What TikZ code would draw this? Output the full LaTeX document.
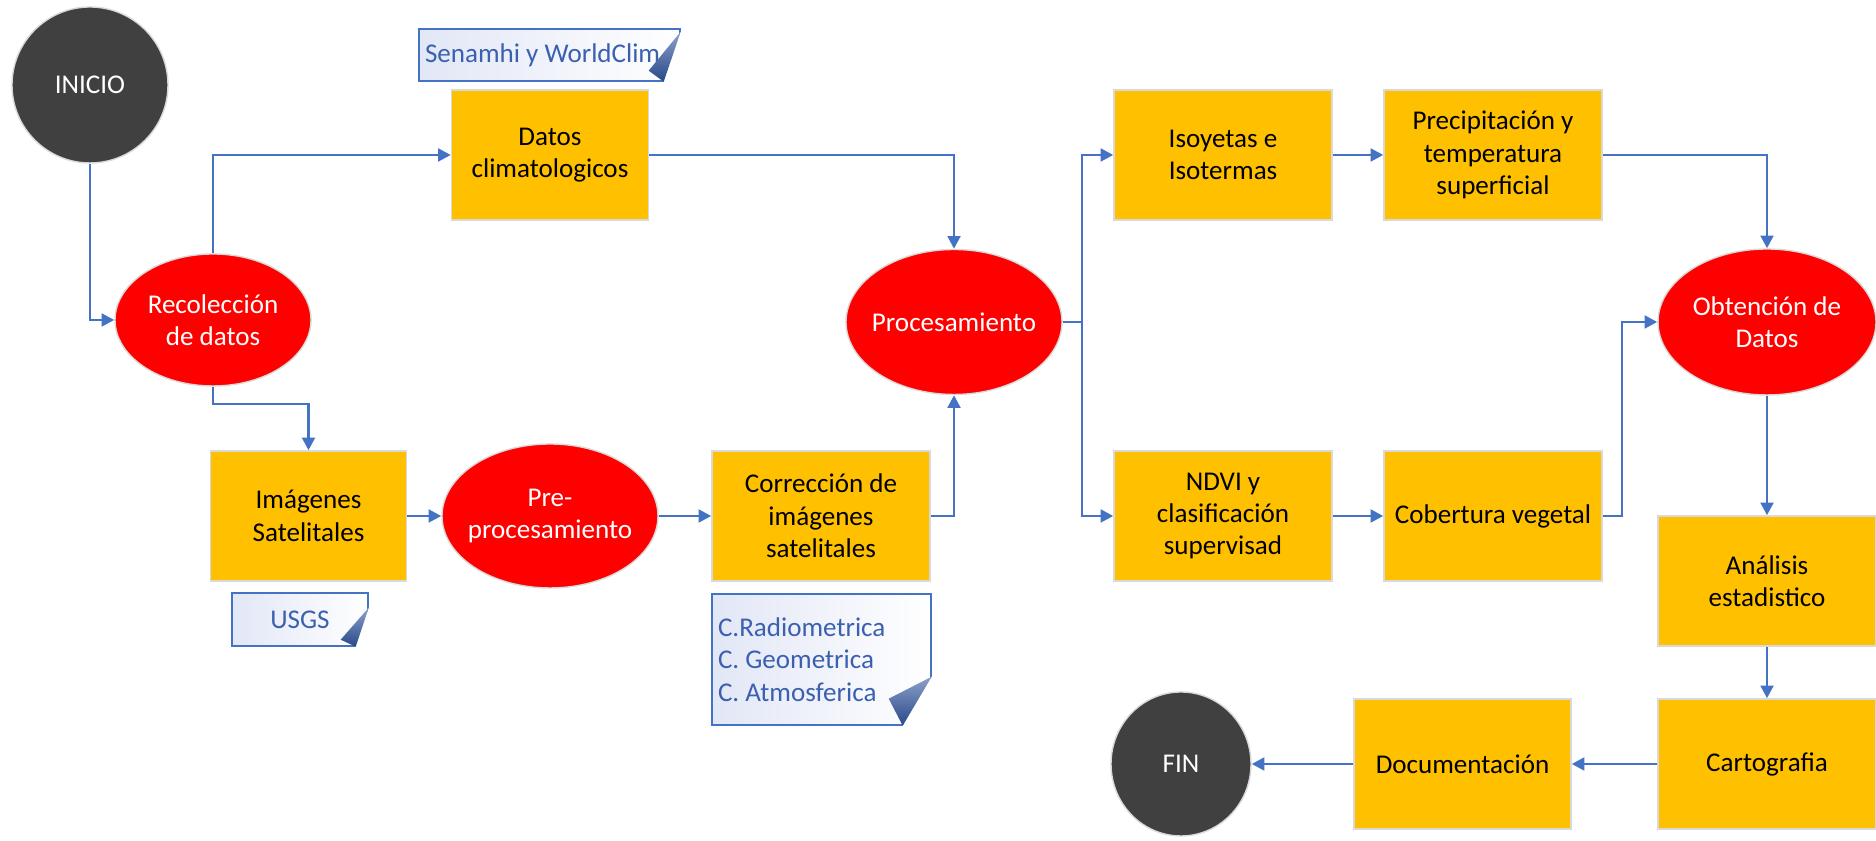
\documentclass[tikz,border=0pt]{standalone}
\usepackage{fontspec}
\setmainfont{Carlito}
\usepackage{tikz}
\usetikzlibrary{arrows.meta,calc,positioning,shapes.geometric}
\definecolor{BoxOrange}{RGB}{255,192,0}
\definecolor{FlowRed}{RGB}{255,0,0}
\definecolor{DarkGray}{RGB}{64,64,64}
\definecolor{LineBlue}{RGB}{68,114,196}
\definecolor{NoteText}{RGB}{59,96,176}
\definecolor{NoteFill}{RGB}{226,231,246}
\definecolor{CurlBlue}{RGB}{47,85,160}
\frenchspacing
% folded corner of a note: node, height, width, flap x, flap y
\newcommand{\pagecurl}[5]{%
  \fill[white] ([yshift=#2]#1.south east) -- ([xshift=1pt,yshift=#2]#1.south east)
    -- ([xshift=1pt,yshift=-1pt]#1.south east) -- ([xshift=-#3,yshift=-1pt]#1.south east)
    -- ([xshift=-#3]#1.south east) -- cycle;
  \shade[top color=CurlBlue!55,bottom color=CurlBlue!85!black] ([yshift=#2]#1.south east)
    -- ([xshift=-#4,yshift=#5]#1.south east) -- ([xshift=-#3]#1.south east) -- cycle;}

\begin{document}
\begin{tikzpicture}[>={Triangle[length=3.6pt,width=3.6pt]},
  font=\fontsize{7.7}{9.2}\selectfont,
  stepbox/.style={draw=black!15,fill=BoxOrange,align=center,inner sep=0pt},
  task/.style={ellipse,draw=black!15,fill=FlowRed,text=white,align=center,inner xsep=-0.08cm,inner ysep=0pt},
  terminal/.style={ellipse,draw=black!15,fill=DarkGray,text=white,inner sep=0pt},
  note/.style={draw=LineBlue,left color=NoteFill,right color=white,text=NoteText,inner xsep=0.06cm,inner ysep=0pt},
  flow/.style={->,draw=LineBlue,line width=0.8pt}]
\useasboundingbox (0,0) rectangle (18.76,8.41);
% left part
\node[terminal,minimum width=1.56cm,minimum height=1.56cm] (inicio) at (0.90,7.56) {INICIO};
\node[task,minimum width=1.96cm,minimum height=1.32cm] (recol) at (2.13,5.21) {Recolección\\de datos};
\node[stepbox,minimum width=1.97cm,minimum height=1.30cm] (datos) at (5.50,6.86) {Datos\\climatologicos};
\node[note,minimum width=2.61cm,minimum height=0.52cm,text width=2.49cm,align=flush left] (senamhi) at (5.495,7.86) {Senamhi y WorldClim};
\node[stepbox,minimum width=1.96cm,minimum height=1.30cm] (imag) at (3.085,3.25) {Imágenes\\Satelitales};
\node[note,minimum width=1.36cm,minimum height=0.53cm,align=center] (usgs) at (3.00,2.215) {USGS};
\node[task,minimum width=2.16cm,minimum height=1.44cm] (pre) at (5.50,3.25) {Pre-\\procesamiento};
\node[stepbox,minimum width=2.18cm,minimum height=1.30cm] (corr) at (8.21,3.25) {Corrección de\\imágenes\\satelitales};
\node[note,minimum width=2.19cm,minimum height=1.31cm,text width=2.07cm,align=flush left] (radio) at (8.215,1.815) {C.Radiometrica\\C. Geometrica\\C. Atmosferica};
\node[task,minimum width=2.16cm,minimum height=1.45cm] (proc) at (9.54,5.19) {Procesamiento};
% right part
\node[stepbox,minimum width=2.18cm,minimum height=1.30cm] (iso) at (12.23,6.86) {Isoyetas e\\Isotermas};
\node[stepbox,minimum width=2.18cm,minimum height=1.30cm] (precip) at (14.93,6.86) {Precipitación y\\temperatura\\superficial};
\node[stepbox,minimum width=2.18cm,minimum height=1.30cm] (ndvi) at (12.23,3.25) {NDVI y\\clasificación\\supervisad};
\node[stepbox,minimum width=2.18cm,minimum height=1.30cm] (cober) at (14.93,3.25) {Cobertura vegetal};
\node[task,minimum width=2.18cm,minimum height=1.46cm] (obt) at (17.67,5.19) {Obtención de\\Datos};
\node[stepbox,minimum width=2.18cm,minimum height=1.30cm] (anal) at (17.67,2.60) {Análisis\\estadistico};
\node[stepbox,minimum width=2.18cm,minimum height=1.30cm] (carto) at (17.67,0.77) {Cartografia};
\node[stepbox,minimum width=2.17cm,minimum height=1.30cm] (docum) at (14.625,0.77) {Documentación};
\node[terminal,minimum width=1.40cm,minimum height=1.44cm] (fin) at (11.81,0.77) {FIN};
\pagecurl{senamhi}{0.50cm}{0.17cm}{0.32cm}{0.11cm}
\pagecurl{usgs}{0.39cm}{0.13cm}{0.28cm}{0.07cm}
\pagecurl{radio}{0.49cm}{0.29cm}{0.43cm}{0.27cm}
% bends
\coordinate (drop) at (2.13,4.37);
\coordinate (split) at (10.82,5.19);
\coordinate (rise) at (16.22,3.25);
% connectors
\draw[flow] (inicio) |- (recol);
\draw[flow] (recol) |- (datos);
\draw[flow] (recol) -- (drop) -| (imag);
\draw[flow] (imag) -- (pre);
\draw[flow] (pre) -- (corr);
\draw[flow] (datos) -| (proc);
\draw[flow] (corr) -| (proc);
\draw[flow,-] (proc) -- (split);
\draw[flow] (split) |- (iso);
\draw[flow] (split) |- (ndvi);
\draw[flow] (iso) -- (precip);
\draw[flow] (ndvi) -- (cober);
\draw[flow] (precip) -| (obt);
\draw[flow] (cober) -- (rise) |- (obt);
\draw[flow] (obt) -- (anal);
\draw[flow] (anal) -- (carto);
\draw[flow] (carto) -- (docum);
\draw[flow] (docum) -- (fin);
\end{tikzpicture}
\end{document}
